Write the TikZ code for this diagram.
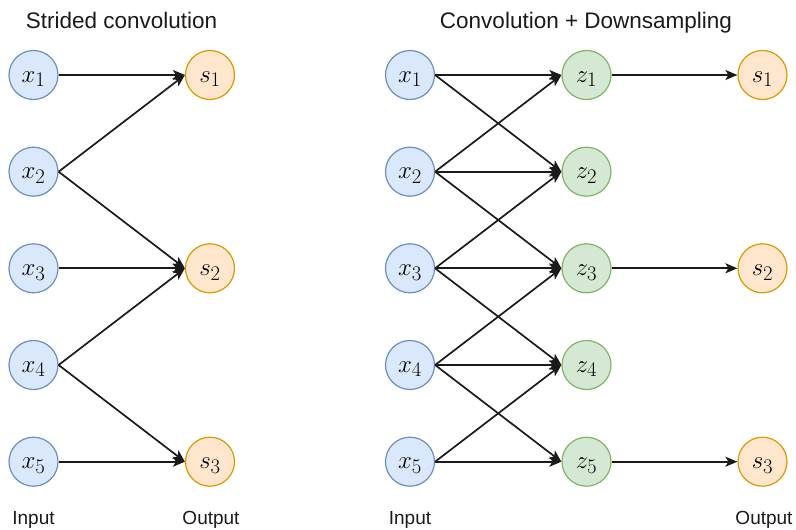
\documentclass[tikz,border=0pt]{standalone}
\usepackage{fontspec}
\setmainfont{Liberation Sans}
\usetikzlibrary{arrows.meta}
\definecolor{inFill}{HTML}{DAE8FC}
\definecolor{inLine}{HTML}{6C8EBF}
\definecolor{midFill}{HTML}{D5E8D4}
\definecolor{midLine}{HTML}{82B366}
\definecolor{outFill}{HTML}{FFE6CC}
\definecolor{outLine}{HTML}{D79B00}
\definecolor{ink}{HTML}{1A1A1A}
\tikzset{
  unit/.style={circle, minimum size=49pt, inner sep=0pt, line width=1.2pt,
    text height=20pt, text depth=6pt,
    font=\fontsize{31}{34}\selectfont},
  inunit/.style={unit, draw=inLine, fill=inFill},
  midunit/.style={unit, draw=midLine, fill=midFill},
  outunit/.style={unit, draw=outLine, fill=outFill},
  link/.style={draw=ink, line width=1.7pt, -{Stealth[length=12pt,width=10pt,inset=3pt]}},
  heading/.style={font=\fontsize{22.5}{26}\selectfont, text=ink, anchor=base},
  caption/.style={font=\fontsize{19}{22}\selectfont, text=ink, anchor=base}
}
\begin{document}
\begin{tikzpicture}[x=1pt, y=-1pt]
  \useasboundingbox (0,0) rectangle (796,530);

  % titles
  \node[heading] (tA) at (121.5,28) {Strided convolution};
  \node[heading] (tB) at (586,28) {Convolution + Downsampling};

  % strided convolution
  \foreach \i/\y in {1/75,2/171.7,3/268.3,4/365,5/461.7}
    \node[inunit] (a\i) at (33.5,\y) {$x_{\i}$};
  \foreach \i/\y in {1/75,2/268.3,3/461.7}
    \node[outunit] (as\i) at (210,\y) {$s_{\i}$};
  \foreach \s/\t in {1/1,2/1,2/2,3/2,4/2,4/3,5/3}
    \draw[link] (a\s.east) -- (as\t.west);

  % convolution followed by downsampling
  \foreach \i/\y in {1/75,2/171.7,3/268.3,4/365,5/461.7}{
    \node[inunit] (b\i) at (410,\y) {$x_{\i}$};
    \node[midunit] (z\i) at (586.5,\y) {$z_{\i}$};
  }
  \foreach \i/\y in {1/75,2/268.3,3/461.7}
    \node[outunit] (bs\i) at (762.5,\y) {$s_{\i}$};
  \foreach \s/\t in {1/1,1/2,2/1,2/2,2/3,3/2,3/3,3/4,4/3,4/4,4/5,5/4,5/5}
    \draw[link] (b\s.east) -- (z\t.west);
  \foreach \s/\t in {1/1,3/2,5/3}
    \draw[link] (z\s.east) -- (bs\t.west);

  % axis captions
  \node[caption] (inA) at (33.5,524) {Input};
  \node[caption] (outA) at (211,524) {Output};
  \node[caption] (inB) at (410,524) {Input};
  \node[caption] (outB) at (764,524) {Output};
\end{tikzpicture}
\end{document}
